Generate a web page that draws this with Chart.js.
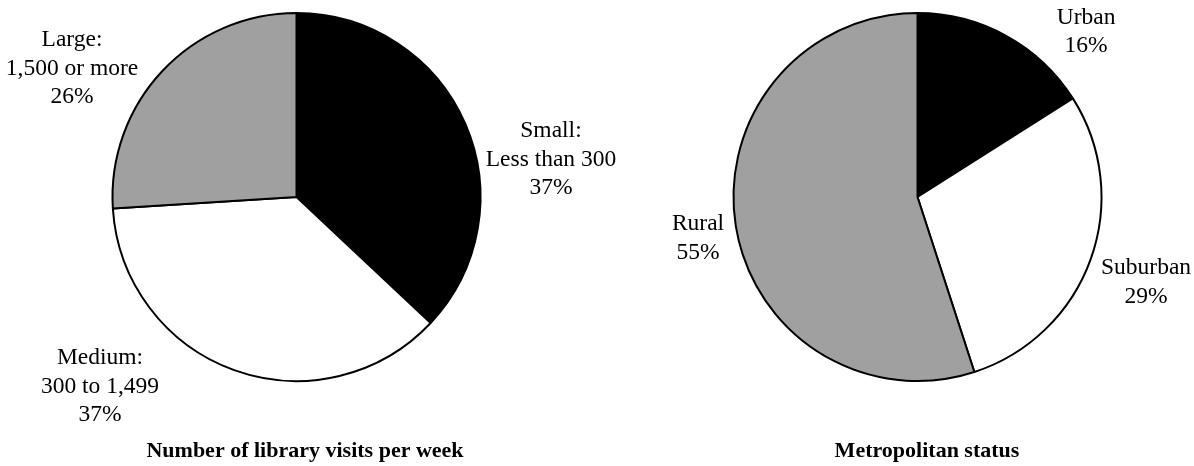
<!DOCTYPE html>
<html>
<head>
<meta charset="utf-8">
<script src="https://cdn.jsdelivr.net/npm/chart.js@4.4.1/dist/chart.umd.min.js"></script>
<style>
  html, body { margin: 0; padding: 0; background: #ffffff; }
  #wrap { position: relative; width: 1194px; height: 466px; overflow: hidden; }
  .box { position: absolute; top: 0; height: 466px; }
</style>
</head>
<body>
<div id="wrap">
  <div class="box" style="left:0px; width:660px"><canvas id="visits"></canvas></div>
  <div class="box" style="left:560px; width:634px"><canvas id="metro"></canvas></div>
</div>
<script>
// Library visits per week
const visitCategories = [["Small:", "Less than 300"], ["Medium:", "300 to 1,499"], ["Large:", "1,500 or more"]];
const visitShares = [37, 37, 26];

// Metropolitan status
const metroCategories = [["Urban"], ["Suburban"], ["Rural"]];
const metroShares = [16, 29, 55];

const sliceColors = ["#000000", "#ffffff", "#a0a0a0"];
const visitCaption = "Number of library visits per week";
const metroCaption = "Metropolitan status";

// Where each slice label sits: first-line baseline / text centre, relative to the pie centre in radii
const visitLabelSpots = [[1.383, -0.325], [-1.068, 0.909], [-1.220, -0.819]];
const metroLabelSpots = [[0.916, -0.941], [1.242, 0.421], [-1.193, 0.182]];

const SERIF = '"Liberation Serif", "Times New Roman", Times, serif';

// Draws the category + percentage text next to each slice and the caption under the pie
const sliceLabels = {
  id: 'sliceLabels',
  afterDatasetsDraw(chart, args, opts) {
    const ctx = chart.ctx;
    const meta = chart.getDatasetMeta(0);
    const values = chart.data.datasets[0].data;
    ctx.save();
    ctx.fillStyle = '#000000';
    ctx.textAlign = 'center';
    ctx.textBaseline = 'alphabetic';
    ctx.font = '23.5px ' + SERIF;
    meta.data.forEach((arc, i) => {
      const r = arc.outerRadius;
      const spot = opts.spots[i];
      const x = arc.x + spot[0] * r;
      const y0 = arc.y + spot[1] * r;
      const lines = chart.data.labels[i].concat([values[i] + '%']);
      lines.forEach((t, k) => ctx.fillText(t, x, y0 + k * 28.5));
    });
    const first = meta.data[0];
    ctx.font = 'bold 22px ' + SERIF;
    ctx.fillText(opts.caption, first.x + opts.captionShift, opts.captionBaseline);
    ctx.restore();
  }
};

function makePie(id, categories, shares, spots, caption, captionShift, padLeft, padRight) {
  return new Chart(document.getElementById(id), {
    type: 'pie',
    data: {
      labels: categories,
      datasets: [{
        data: shares,
        backgroundColor: sliceColors,
        borderColor: '#000000',
        borderWidth: 2,
        hoverOffset: 0
      }]
    },
    options: {
      responsive: true,
      maintainAspectRatio: false,
      devicePixelRatio: 1,
      animation: false,
      rotation: 0,
      layout: { padding: { top: 12, bottom: 84, left: padLeft, right: padRight } },
      plugins: {
        legend: { display: false },
        tooltip: { enabled: false },
        sliceLabels: { spots: spots, caption: caption, captionShift: captionShift, captionBaseline: 457 }
      }
    },
    plugins: [sliceLabels]
  });
}

makePie('visits', visitCategories, visitShares, visitLabelSpots, visitCaption, 8.5, 0, 67);
makePie('metro', metroCategories, metroShares, metroLabelSpots, metroCaption, 9.5, 81, 0);
</script>
</body>
</html>
